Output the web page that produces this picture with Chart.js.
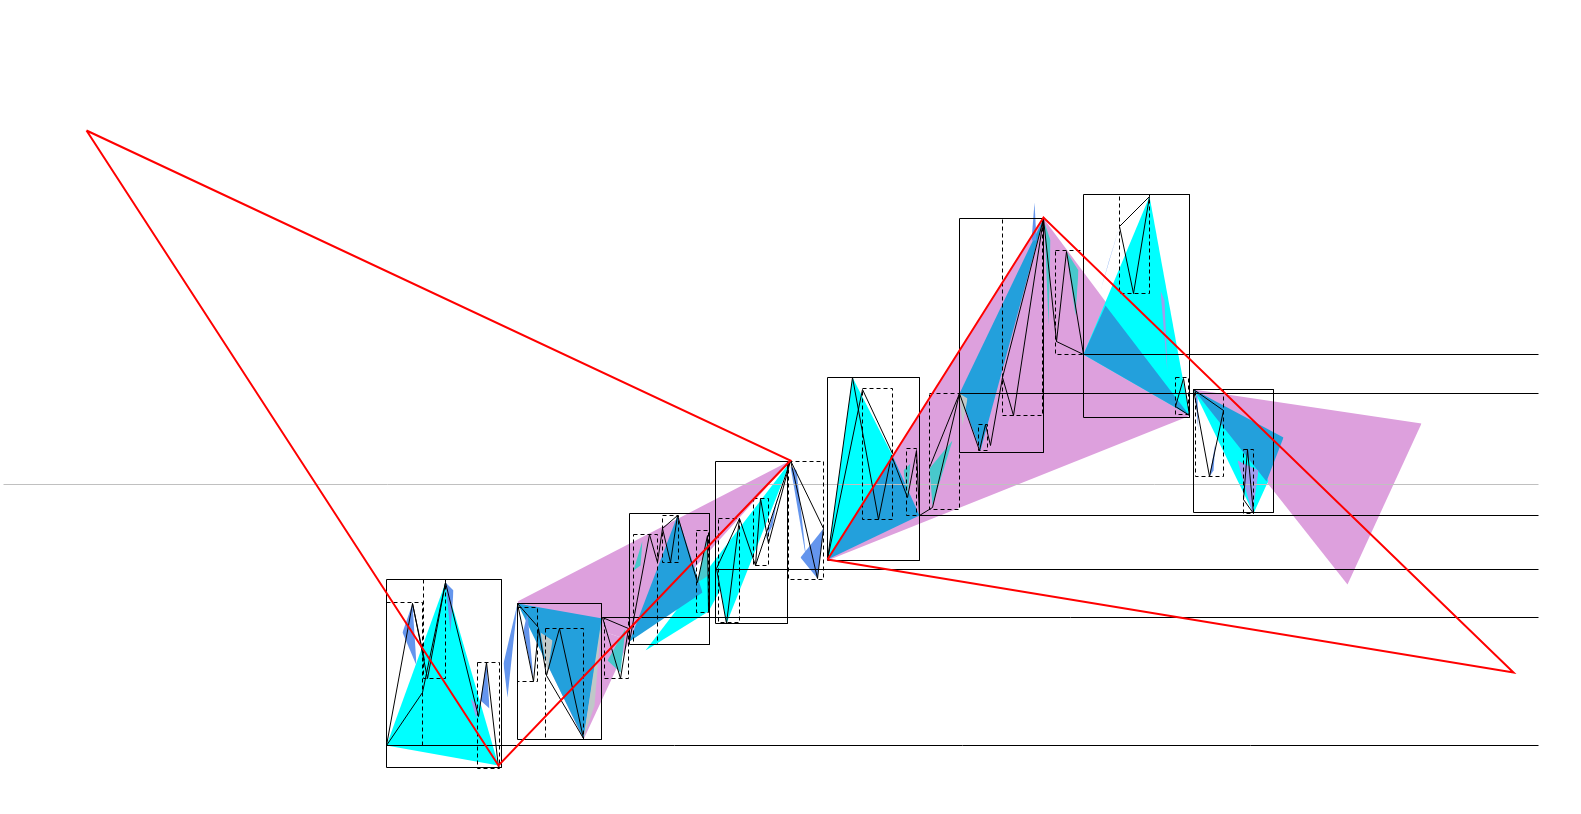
<!DOCTYPE html>
<html>
<head>
<meta charset="utf-8">
<script src="https://cdn.jsdelivr.net/npm/chart.js@4"></script>
<style>
  body { margin: 0; background: #fff; }
  #wrap { width: 1581px; height: 814px; }
</style>
</head>
<body>
<div id="wrap"><canvas id="chart"></canvas></div>
<script>
// pivots are [bar, price] (price axis runs downward)
const legOne = [[86,130],[498,765],[790,460],[86,130]];
const legTwo = [[827,559],[1043,217],[1513,672],[827,559]];

const levelY = [354, 393, 515, 569, 617, 745];
const levelFrom = [1083, 959, 919, 715, 602, 386];
const levelEnd = 1538;
const midLevel = 484;
const midFrom = 3;

// [bar1, price1, bar2, price2]
const boxes = [
  [386,579,501,767], [517,603,601,739], [629,513,709,644], [715,461,787,623],
  [827,377,919,560], [959,218,1043,452], [1083,194,1189,417], [1193,389,1273,512]
];
const dashBoxes = [
  [386,602,422,745], [423,579,445,678], [477,662,499,768],
  [517,607,537,681], [545,628,583,739], [604,617,628,678],
  [633,534,657,644], [662,515,678,562], [696,530,708,612],
  [718,518,739,622], [753,498,768,565], [788,461,823,579],
  [862,388,892,519], [906,448,916,515], [929,393,959,509],
  [1002,218,1042,415], [978,424,987,450], [1055,250,1083,354],
  [1119,194,1149,293], [1175,377,1188,414],
  [1195,389,1223,476], [1243,449,1253,513]
];

const zigzags = [
  [[386,745],[412,603],[427,678],[445,582],[478,716],[486,662],[498,767]],
  [[386,745],[422,692],[445,582]],
  [[412,603],[424,660]],
  [[517,603],[533,681],[538,628],[546,675],[559,628],[583,738]],
  [[517,603],[538,627]],
  [[546,675],[583,738]],
  [[602,617],[620,678],[628,628],[602,617]],
  [[629,641],[649,534],[657,562],[662,528],[670,562],[677,515],[697,582],[707,535],[708,611]],
  [[662,528],[677,515]],
  [[716,568],[726,623],[739,518],[755,565],[760,498],[768,543],[790,460],[817,578],[823,528]],
  [[716,568],[739,518]],
  [[755,565],[790,460],[823,528]],
  [[827,559],[852,377],[878,519],[891,455],[907,497],[916,450],[919,515],[932,507],[959,393]],
  [[827,559],[862,389],[892,453]],
  [[929,467],[959,393]],
  [[959,393],[979,450],[985,424],[990,445],[1002,377],[1013,415],[1043,218]],
  [[1002,377],[1043,218]],
  [[1043,218],[1056,341],[1066,251],[1083,354],[1056,341]],
  [[1119,226],[1133,293],[1149,196],[1119,226]],
  [[1175,406],[1183,378],[1189,415],[1175,406]],
  [[1193,389],[1209,476],[1223,410],[1193,389]],
  [[1243,499],[1247,449],[1253,513],[1243,499]]
];

const plumTris = [
  [[517,601],[790,460],[629,640]],
  [[517,601],[629,640],[583,739]],
  [[827,560],[1043,218],[1190,415]],
  [[1193,389],[1421,423],[1347,584]]
];
const cyanTris = [
  [[386,745],[445,582],[498,765]],
  [[645,650],[708,611],[790,461]],
  [[716,567],[726,623],[790,461]],
  [[827,559],[852,377],[892,455]],
  [[1083,354],[1149,196],[1189,415]],
  [[1193,389],[1253,513],[1268,480]]
];
const blueTris = [
  [[517,603],[602,618],[583,738]],
  [[629,641],[677,515],[702,592]],
  [[827,559],[892,455],[919,515]],
  [[959,393],[1043,218],[980,450]],
  [[1083,354],[1105,305],[1189,415]],
  [[1193,389],[1283,437],[1266,481]]
];
const greyTris = [
  [[583,738],[601,619],[594,705]],
  [[959,393],[967,398],[962,425]],
  [[540,632],[552,640],[547,672]]
];
const tealTris = [
  [[607,660],[625,628],[620,672]],
  [[633,570],[642,540],[640,565]],
  [[697,582],[707,535],[708,575]],
  [[929,468],[952,440],[932,505]],
  [[903,470],[910,463],[907,497]],
  [[1066,251],[1078,270],[1075,315]],
  [[1014,405],[1042,222],[1030,300]],
  [[1044,222],[1050,240],[1048,325]]
];
const cornTris = [
  [[402,632],[412,603],[416,665]],
  [[445,582],[453,590],[450,632]],
  [[480,700],[486,662],[489,708]],
  [[503,663],[517,603],[507,697]],
  [[523,630],[527,612],[533,680]],
  [[765,540],[777,497],[772,525]],
  [[800,557],[823,528],[817,578]],
  [[790,466],[806,560],[796,470]],
  [[1031,240],[1034,202],[1036,240]],
  [[1100,290],[1119,226],[1108,262]],
  [[1195,395],[1198,433],[1197,395]],
  [[1209,476],[1215,442],[1213,470]]
];
const purpleTris = [
  [[470,698],[477,705],[476,718]],
  [[1160,290],[1167,372],[1164,300]],
  [[1237,460],[1252,513],[1258,470]]
];

const pt = p => ({x: p[0], y: p[1]});
const datasets = [];

function addTri(tri, color) {
  const s = tri.slice().sort((a, b) => a[0] - b[0]);
  const base = datasets.length;
  datasets.push({data: [pt(s[0]), pt(s[2])], borderWidth: 0, fill: false, pointRadius: 0});
  datasets.push({data: s.map(pt), borderWidth: 0, backgroundColor: color, fill: base, pointRadius: 0});
}
function addLine(points, color, width, dash) {
  datasets.push({
    data: points.map(pt), borderColor: color, borderWidth: width,
    borderDash: dash || [], fill: false, pointRadius: 0, tension: 0
  });
}
function boxPath(b) {
  return [[b[0],b[1]],[b[2],b[1]],[b[2],b[3]],[b[0],b[3]],[b[0],b[1]]];
}

plumTris.forEach(t => addTri(t, '#dda0dd'));
cyanTris.forEach(t => addTri(t, '#00ffff'));
blueTris.forEach(t => addTri(t, '#23a0dc'));
greyTris.forEach(t => addTri(t, '#bfc8c8'));
tealTris.forEach(t => addTri(t, '#48c8cc'));
cornTris.forEach(t => addTri(t, '#6495ed'));
purpleTris.forEach(t => addTri(t, '#a09cee'));

addLine([[midFrom, midLevel], [levelEnd, midLevel]], '#c0c0c0', 1);
levelY.forEach((y, i) => addLine([[levelFrom[i], y], [levelEnd, y]], '#000', 1));
boxes.forEach(b => addLine(boxPath(b), '#000', 1));
dashBoxes.forEach(b => addLine(boxPath(b), '#000', 1, [4, 3]));
zigzags.forEach(z => addLine(z, '#000', 1));
addLine(legOne, '#ff0000', 2);
addLine(legTwo, '#ff0000', 2);

// later datasets on top
datasets.forEach((d, i) => { d.order = -i; });

new Chart(document.getElementById('chart'), {
  type: 'line',
  data: { datasets },
  options: {
    responsive: true,
    maintainAspectRatio: false,
    animation: false,
    events: [],
    layout: { padding: 0, autoPadding: false },
    plugins: { legend: { display: false }, tooltip: { enabled: false } },
    scales: {
      x: { type: 'linear', min: -0.5, max: 1580.5, display: false },
      y: { type: 'linear', min: -0.5, max: 813.5, reverse: true, display: false }
    }
  }
});
</script>
</body>
</html>
